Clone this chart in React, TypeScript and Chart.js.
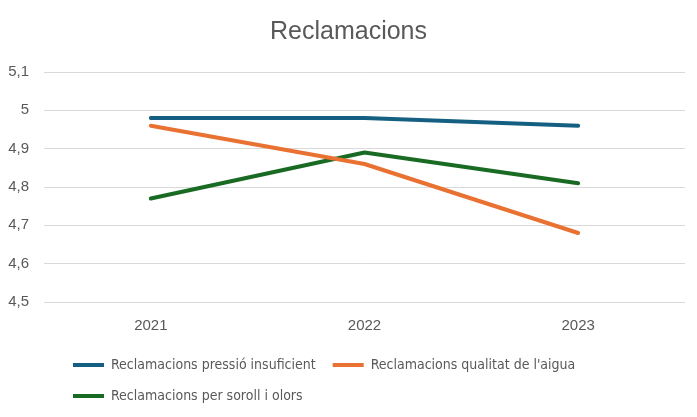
import React, { useEffect, useRef } from 'react';
import { Chart, registerables } from 'chart.js';

Chart.register(...registerables);

const years = ['2021', '2022', '2023'];
const pressioInsuficient = [4.98, 4.98, 4.96];
const qualitatAigua = [4.96, 4.86, 4.68];
const sorollOlors = [4.77, 4.89, 4.81];
const seriesNames = [
  'Reclamacions pressió insuficient',
  "Reclamacions qualitat de l'aigua",
  'Reclamacions per soroll i olors',
];
const seriesColors = ['#156082', '#E97132', '#196B24'];
const yMin = 4.5;
const yMax = 5.1;
const yStep = 0.1;
const chartTitle = 'Reclamacions';

const TEXT = '#595959';

const layoutTweak = {
  id: 'layoutTweak',
  afterLayout(chart: any) {
    const lg = chart.legend;
    if (lg) {
      const h = lg.bottom - lg.top;
      lg.left = 56;
      lg.top = 341;
      lg.bottom = 341 + h;
    }
    const tb = chart.titleBlock;
    if (tb) {
      tb.left = 0;
      tb.right = chart.width;
      tb.width = chart.width;
    }
  },
};

export default function App() {
  const ref = useRef<HTMLCanvasElement | null>(null);

  useEffect(() => {
    if (!ref.current) return;
    const seriesValues = [pressioInsuficient, qualitatAigua, sorollOlors];
    const chart = new Chart(ref.current, {
      type: 'line',
      data: {
        labels: years,
        datasets: seriesValues.map((vals, i) => ({
          label: seriesNames[i],
          data: vals,
          borderColor: seriesColors[i],
          backgroundColor: seriesColors[i],
          borderWidth: 4,
          borderCapStyle: 'round',
          borderJoinStyle: 'round',
          pointRadius: 0,
          pointHoverRadius: 0,
          tension: 0,
          fill: false,
        })),
      },
      options: {
        responsive: false,
        animation: false,
        layout: { padding: { left: 0, right: 12, top: 0, bottom: 0 } },
        plugins: {
          title: {
            display: true,
            text: chartTitle,
            color: TEXT,
            font: { family: "'Liberation Sans', Arial, sans-serif", size: 25, weight: 'normal' },
            padding: { top: 17.5, bottom: 24.5 },
          },
          legend: {
            display: true,
            position: 'bottom',
            align: 'start',
            labels: {
              color: TEXT,
              font: { family: "'DejaVu Sans Condensed', 'Liberation Sans Narrow', sans-serif", size: 14 },
              boxWidth: 31,
              boxHeight: 4,
              padding: 17,
              generateLabels: (c: any) =>
                c.data.datasets.map((ds: any, i: number) => ({
                  text: ds.label,
                  fillStyle: seriesColors[i],
                  strokeStyle: seriesColors[i],
                  lineWidth: 0,
                  fontColor: TEXT,
                  hidden: false,
                  datasetIndex: i,
                })),
            },
          },
          tooltip: { enabled: false },
        },
        scales: {
          x: {
            offset: true,
            grid: { display: false, drawTicks: false },
            border: { display: false },
            ticks: {
              color: TEXT,
              padding: 15,
              font: { family: "'Liberation Sans', Arial, sans-serif", size: 15 },
            },
            afterFit: (s: any) => {
              s.height = 43;
            },
          },
          y: {
            min: yMin,
            max: yMax,
            grid: { color: '#d9d9d9', lineWidth: 1, drawTicks: false },
            border: { display: false },
            ticks: {
              stepSize: yStep,
              color: TEXT,
              padding: 15,
              font: { family: "'Liberation Sans', Arial, sans-serif", size: 15 },
              callback: (v: any) => String(Number(Number(v).toFixed(1))).replace('.', ','),
            },
            afterFit: (s: any) => {
              s.width = 44;
            },
          },
        },
      },
      plugins: [layoutTweak],
    } as any);
    return () => chart.destroy();
  }, []);

  return (
    <div style={{ position: 'fixed', left: 0, top: 0, width: 697, height: 417, background: '#fff' }}>
      <canvas ref={ref} width={697} height={417} style={{ display: 'block' }} />
    </div>
  );
}
